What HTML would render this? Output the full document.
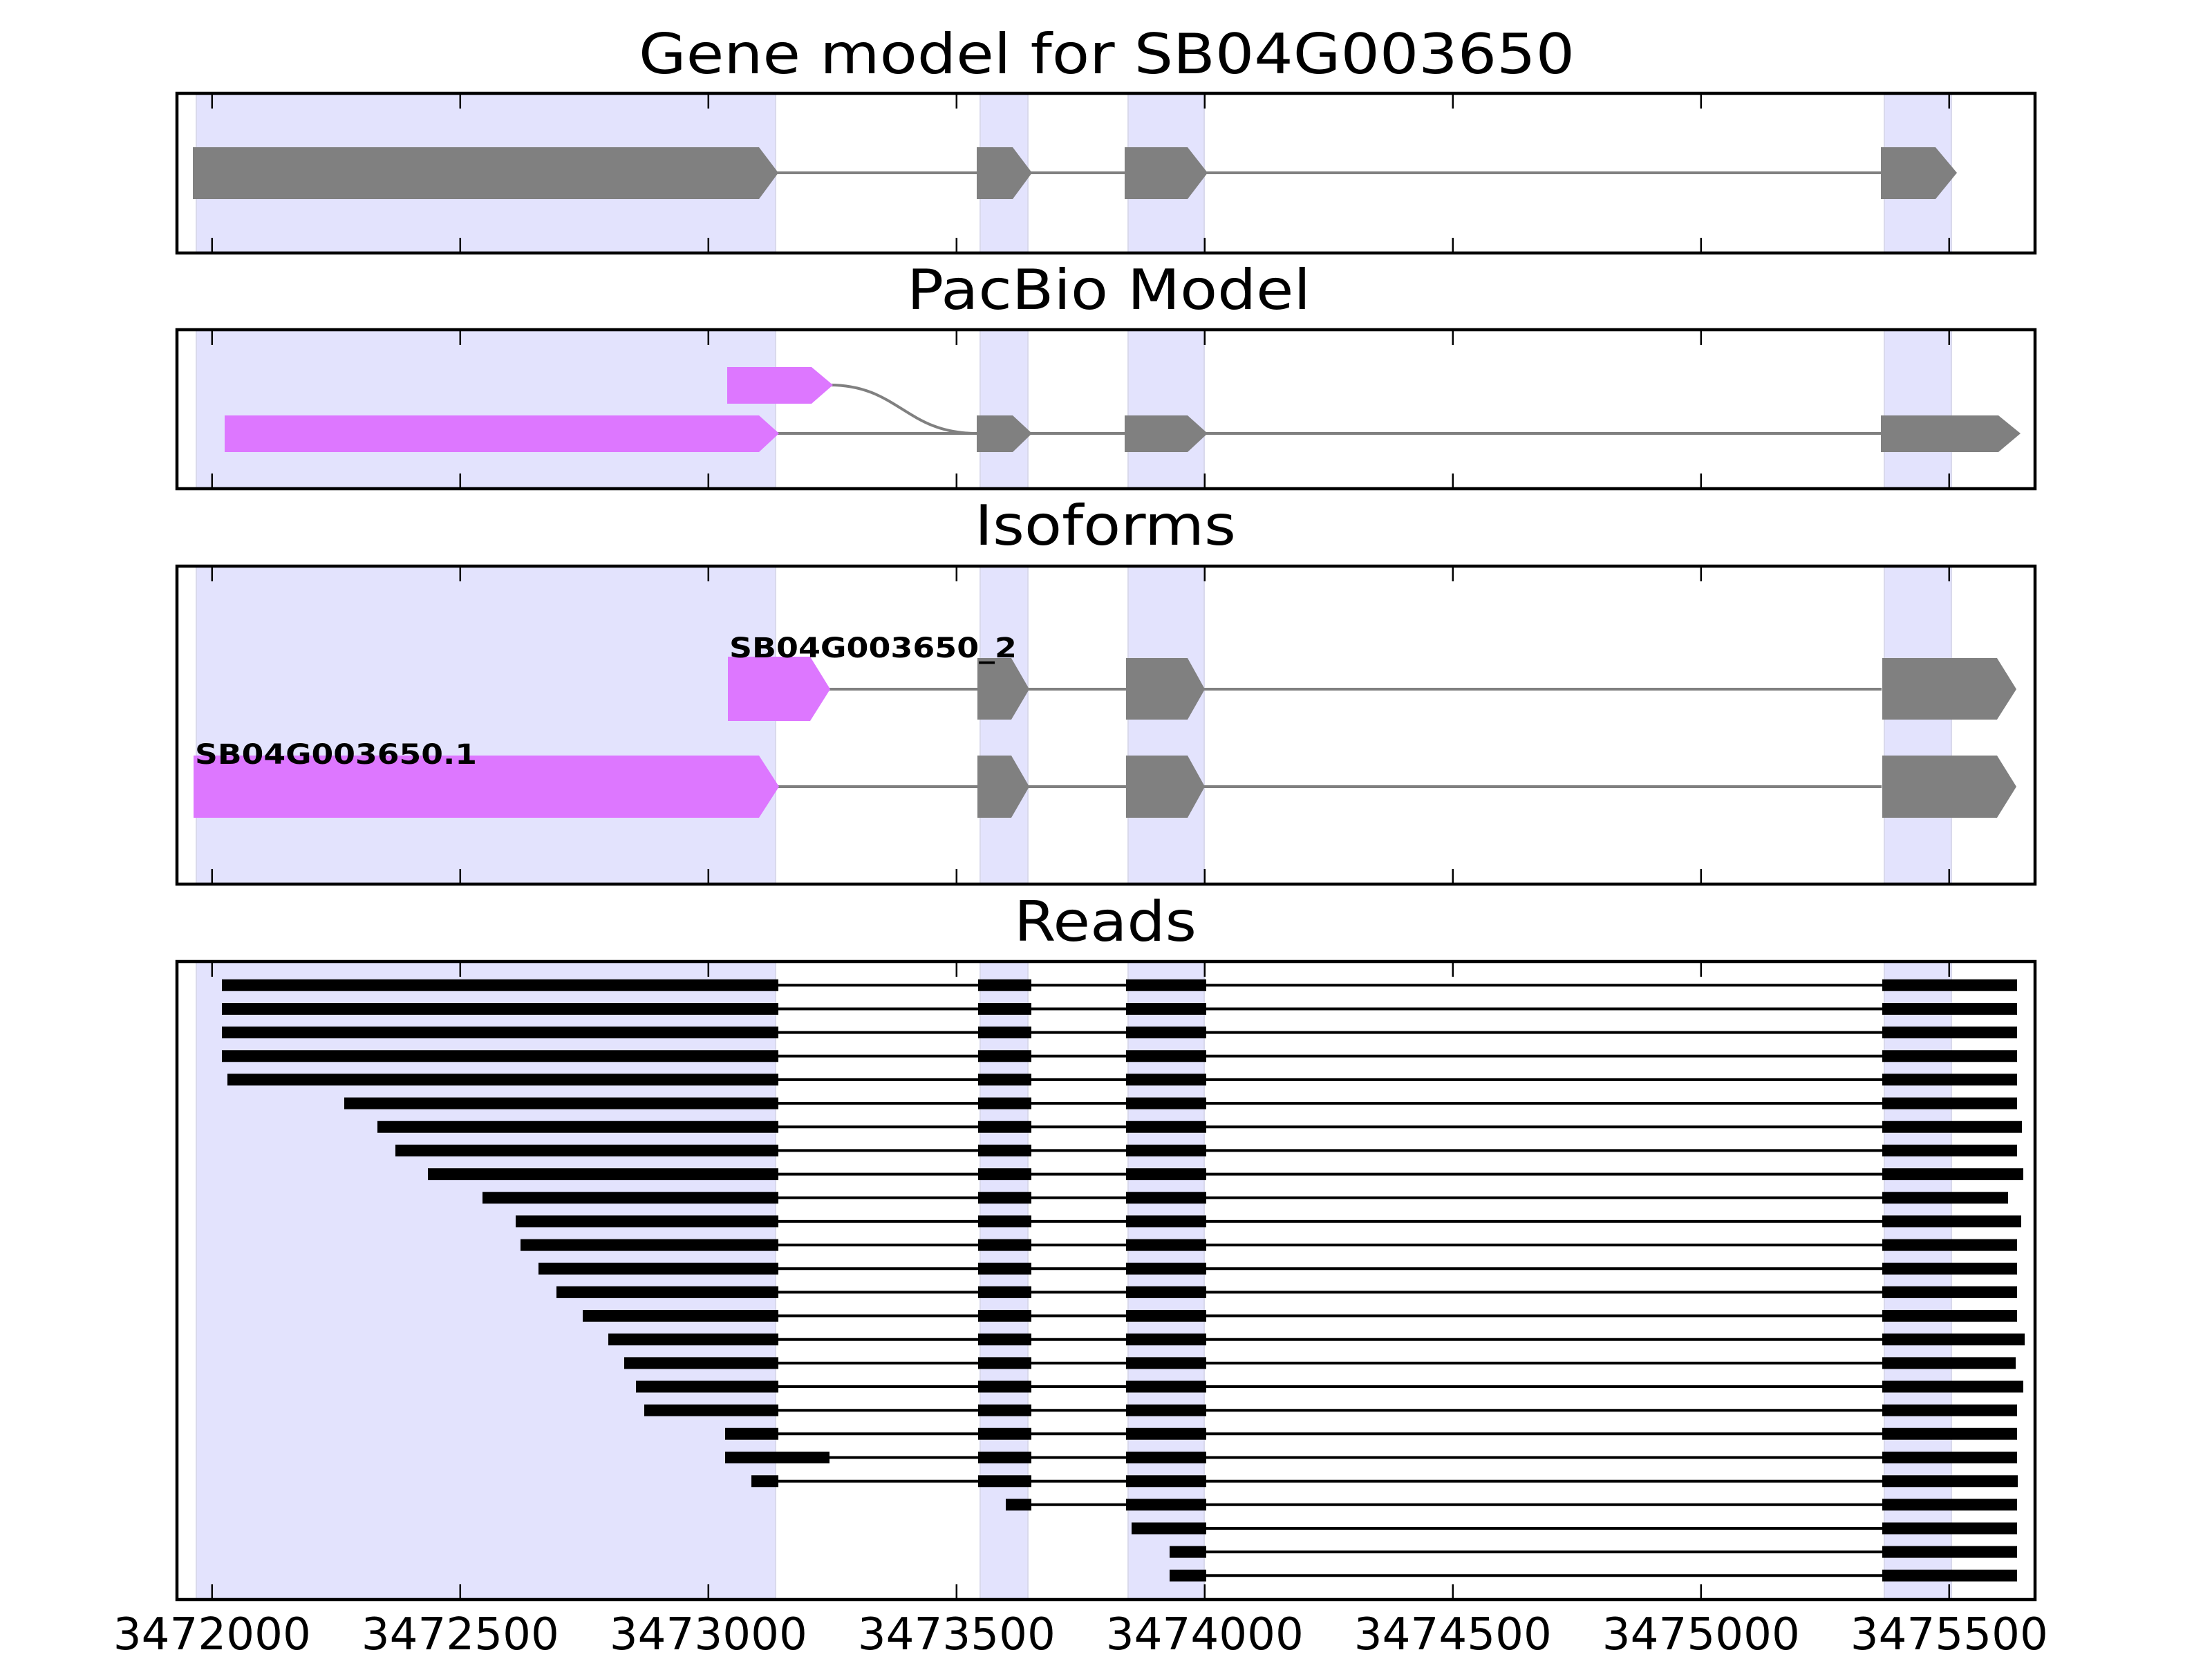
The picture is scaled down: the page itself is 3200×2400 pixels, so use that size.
<!DOCTYPE html>
<html><head><meta charset="utf-8"><style>html,body{margin:0;padding:0;background:#fff}svg{display:block}</style></head>
<body>
<svg xmlns="http://www.w3.org/2000/svg" width="3200" height="2400" viewBox="0 0 3200 2400" font-family="'DejaVu Sans','Liberation Sans',sans-serif">
<rect width="3200" height="2400" fill="#fff"/>
<defs>
<g id="shadeTop">
</g>
</defs>
<!-- Titles -->
<g font-size="80" fill="#000">
<text x="1601" y="106" text-anchor="middle" textLength="1354" lengthAdjust="spacingAndGlyphs">Gene model for SB04G003650</text>
<text x="1604" y="447" text-anchor="middle" textLength="584" lengthAdjust="spacingAndGlyphs">PacBio Model</text>
<text x="1599" y="788" text-anchor="middle" textLength="378" lengthAdjust="spacingAndGlyphs">Isoforms</text>
<text x="1599" y="1361" text-anchor="middle" textLength="264" lengthAdjust="spacingAndGlyphs">Reads</text>
</g>

<!-- Shading bands -->
<g fill="#e3e3fd" stroke="#d9d9ec" stroke-width="2">
<rect x="284" y="135" width="838" height="231"/><rect x="1418" y="135" width="69" height="231"/><rect x="1632" y="135" width="110" height="231"/><rect x="2726" y="135" width="97" height="231"/>
<rect x="284" y="477" width="838" height="230"/><rect x="1418" y="477" width="69" height="230"/><rect x="1632" y="477" width="110" height="230"/><rect x="2726" y="477" width="97" height="230"/>
<rect x="284" y="819" width="838" height="460"/><rect x="1418" y="819" width="69" height="460"/><rect x="1632" y="819" width="110" height="460"/><rect x="2726" y="819" width="97" height="460"/>
<rect x="284" y="1391" width="838" height="923"/><rect x="1418" y="1391" width="69" height="923"/><rect x="1632" y="1391" width="110" height="923"/><rect x="2726" y="1391" width="97" height="923"/>
</g>

<!-- Panel 1: gene model -->
<line x1="1120" y1="250" x2="2722" y2="250" stroke="#808080" stroke-width="4"/>
<g fill="#808080">
<polygon points="279,213 1098,213 1126,250 1098,288 279,288"/>
<polygon points="1413,213 1465,213 1493,250 1465,288 1413,288"/>
<polygon points="1627,213 1718,213 1747,250 1718,288 1627,288"/>
<polygon points="2721,213 2800,213 2831,250 2800,288 2721,288"/>
</g>

<!-- Panel 2: PacBio -->
<path d="M1200 557 C1300 557 1310 627 1413 627" fill="none" stroke="#808080" stroke-width="4"/>
<line x1="1120" y1="627" x2="2722" y2="627" stroke="#808080" stroke-width="4"/>
<g fill="#dd77ff">
<polygon points="1052,531 1174,531 1205,557 1174,584 1052,584"/>
<polygon points="325,601 1098,601 1127,627 1098,654 325,654"/>
</g>
<g fill="#808080">
<polygon points="1413,601 1465,601 1493,627 1465,654 1413,654"/>
<polygon points="1627,601 1718,601 1747,627 1718,654 1627,654"/>
<polygon points="2721,601 2891,601 2923,627 2891,654 2721,654"/>
</g>

<!-- Panel 3: Isoforms -->
<line x1="1195" y1="997" x2="2722" y2="997" stroke="#808080" stroke-width="4"/>
<line x1="1120" y1="1138" x2="2722" y2="1138" stroke="#808080" stroke-width="4"/>
<g fill="#dd77ff">
<polygon points="1053,950 1172,950 1201,997 1172,1043 1053,1043"/>
<polygon points="280,1093 1098,1093 1127,1138 1098,1183 280,1183"/>
</g>
<g fill="#808080">
<polygon points="1414,952 1463,952 1489,997 1463,1041 1414,1041"/>
<polygon points="1629,952 1718,952 1743,997 1718,1041 1629,1041"/>
<polygon points="2723,952 2889,952 2917,997 2889,1041 2723,1041"/>
<polygon points="1414,1093 1463,1093 1489,1138 1463,1183 1414,1183"/>
<polygon points="1629,1093 1718,1093 1743,1138 1718,1183 1629,1183"/>
<polygon points="2723,1093 2889,1093 2917,1138 2889,1183 2723,1183"/>
</g>
<g font-family="'DejaVu Sans','Liberation Sans',sans-serif" font-weight="bold" font-size="40" fill="#000">
<text x="1055" y="951" textLength="416" lengthAdjust="spacingAndGlyphs">SB04G003650_2</text>
<text x="282" y="1105" textLength="408" lengthAdjust="spacingAndGlyphs">SB04G003650.1</text>
</g>

<!-- Panel 4: Reads -->
<g stroke="#000" stroke-width="4">
<line x1="1126" y1="1425.3" x2="2723" y2="1425.3"/>
<line x1="1126" y1="1459.5" x2="2723" y2="1459.5"/>
<line x1="1126" y1="1493.6" x2="2723" y2="1493.6"/>
<line x1="1126" y1="1527.8" x2="2723" y2="1527.8"/>
<line x1="1126" y1="1561.9" x2="2723" y2="1561.9"/>
<line x1="1126" y1="1596.1" x2="2723" y2="1596.1"/>
<line x1="1126" y1="1630.3" x2="2723" y2="1630.3"/>
<line x1="1126" y1="1664.4" x2="2723" y2="1664.4"/>
<line x1="1126" y1="1698.6" x2="2723" y2="1698.6"/>
<line x1="1126" y1="1732.7" x2="2723" y2="1732.7"/>
<line x1="1126" y1="1766.9" x2="2723" y2="1766.9"/>
<line x1="1126" y1="1801.1" x2="2723" y2="1801.1"/>
<line x1="1126" y1="1835.2" x2="2723" y2="1835.2"/>
<line x1="1126" y1="1869.4" x2="2723" y2="1869.4"/>
<line x1="1126" y1="1903.5" x2="2723" y2="1903.5"/>
<line x1="1126" y1="1937.7" x2="2723" y2="1937.7"/>
<line x1="1126" y1="1971.9" x2="2723" y2="1971.9"/>
<line x1="1126" y1="2006.0" x2="2723" y2="2006.0"/>
<line x1="1126" y1="2040.2" x2="2723" y2="2040.2"/>
<line x1="1126" y1="2074.3" x2="2723" y2="2074.3"/>
<line x1="1126" y1="2108.5" x2="2723" y2="2108.5"/>
<line x1="1126" y1="2142.7" x2="2723" y2="2142.7"/>
<line x1="1455" y1="2176.8" x2="2723" y2="2176.8"/>
<line x1="1637" y1="2211.0" x2="2723" y2="2211.0"/>
<line x1="1692" y1="2245.1" x2="2723" y2="2245.1"/>
<line x1="1692" y1="2279.3" x2="2723" y2="2279.3"/>
</g>
<g stroke="#000" stroke-width="17">
<!-- first exon -->
<line x1="321" y1="1425.3" x2="1126" y2="1425.3"/>
<line x1="321" y1="1459.5" x2="1126" y2="1459.5"/>
<line x1="321" y1="1493.6" x2="1126" y2="1493.6"/>
<line x1="321" y1="1527.8" x2="1126" y2="1527.8"/>
<line x1="329" y1="1561.9" x2="1126" y2="1561.9"/>
<line x1="498" y1="1596.1" x2="1126" y2="1596.1"/>
<line x1="546" y1="1630.3" x2="1126" y2="1630.3"/>
<line x1="572" y1="1664.4" x2="1126" y2="1664.4"/>
<line x1="619" y1="1698.6" x2="1126" y2="1698.6"/>
<line x1="698" y1="1732.7" x2="1126" y2="1732.7"/>
<line x1="746" y1="1766.9" x2="1126" y2="1766.9"/>
<line x1="753" y1="1801.1" x2="1126" y2="1801.1"/>
<line x1="779" y1="1835.2" x2="1126" y2="1835.2"/>
<line x1="805" y1="1869.4" x2="1126" y2="1869.4"/>
<line x1="843" y1="1903.5" x2="1126" y2="1903.5"/>
<line x1="880" y1="1937.7" x2="1126" y2="1937.7"/>
<line x1="903" y1="1971.9" x2="1126" y2="1971.9"/>
<line x1="920" y1="2006.0" x2="1126" y2="2006.0"/>
<line x1="932" y1="2040.2" x2="1126" y2="2040.2"/>
<line x1="1049" y1="2074.3" x2="1126" y2="2074.3"/>
<line x1="1049" y1="2108.5" x2="1200" y2="2108.5"/>
<line x1="1087" y1="2142.7" x2="1126" y2="2142.7"/>
<!-- exon 2 -->
<line x1="1415" y1="1425.3" x2="1492" y2="1425.3"/>
<line x1="1415" y1="1459.5" x2="1492" y2="1459.5"/>
<line x1="1415" y1="1493.6" x2="1492" y2="1493.6"/>
<line x1="1415" y1="1527.8" x2="1492" y2="1527.8"/>
<line x1="1415" y1="1561.9" x2="1492" y2="1561.9"/>
<line x1="1415" y1="1596.1" x2="1492" y2="1596.1"/>
<line x1="1415" y1="1630.3" x2="1492" y2="1630.3"/>
<line x1="1415" y1="1664.4" x2="1492" y2="1664.4"/>
<line x1="1415" y1="1698.6" x2="1492" y2="1698.6"/>
<line x1="1415" y1="1732.7" x2="1492" y2="1732.7"/>
<line x1="1415" y1="1766.9" x2="1492" y2="1766.9"/>
<line x1="1415" y1="1801.1" x2="1492" y2="1801.1"/>
<line x1="1415" y1="1835.2" x2="1492" y2="1835.2"/>
<line x1="1415" y1="1869.4" x2="1492" y2="1869.4"/>
<line x1="1415" y1="1903.5" x2="1492" y2="1903.5"/>
<line x1="1415" y1="1937.7" x2="1492" y2="1937.7"/>
<line x1="1415" y1="1971.9" x2="1492" y2="1971.9"/>
<line x1="1415" y1="2006.0" x2="1492" y2="2006.0"/>
<line x1="1415" y1="2040.2" x2="1492" y2="2040.2"/>
<line x1="1415" y1="2074.3" x2="1492" y2="2074.3"/>
<line x1="1415" y1="2108.5" x2="1492" y2="2108.5"/>
<line x1="1415" y1="2142.7" x2="1492" y2="2142.7"/>
<line x1="1455" y1="2176.8" x2="1492" y2="2176.8"/>
<!-- exon 3 -->
<line x1="1629" y1="1425.3" x2="1745" y2="1425.3"/>
<line x1="1629" y1="1459.5" x2="1745" y2="1459.5"/>
<line x1="1629" y1="1493.6" x2="1745" y2="1493.6"/>
<line x1="1629" y1="1527.8" x2="1745" y2="1527.8"/>
<line x1="1629" y1="1561.9" x2="1745" y2="1561.9"/>
<line x1="1629" y1="1596.1" x2="1745" y2="1596.1"/>
<line x1="1629" y1="1630.3" x2="1745" y2="1630.3"/>
<line x1="1629" y1="1664.4" x2="1745" y2="1664.4"/>
<line x1="1629" y1="1698.6" x2="1745" y2="1698.6"/>
<line x1="1629" y1="1732.7" x2="1745" y2="1732.7"/>
<line x1="1629" y1="1766.9" x2="1745" y2="1766.9"/>
<line x1="1629" y1="1801.1" x2="1745" y2="1801.1"/>
<line x1="1629" y1="1835.2" x2="1745" y2="1835.2"/>
<line x1="1629" y1="1869.4" x2="1745" y2="1869.4"/>
<line x1="1629" y1="1903.5" x2="1745" y2="1903.5"/>
<line x1="1629" y1="1937.7" x2="1745" y2="1937.7"/>
<line x1="1629" y1="1971.9" x2="1745" y2="1971.9"/>
<line x1="1629" y1="2006.0" x2="1745" y2="2006.0"/>
<line x1="1629" y1="2040.2" x2="1745" y2="2040.2"/>
<line x1="1629" y1="2074.3" x2="1745" y2="2074.3"/>
<line x1="1629" y1="2108.5" x2="1745" y2="2108.5"/>
<line x1="1629" y1="2142.7" x2="1745" y2="2142.7"/>
<line x1="1629" y1="2176.8" x2="1745" y2="2176.8"/>
<line x1="1637" y1="2211.0" x2="1745" y2="2211.0"/>
<line x1="1692" y1="2245.1" x2="1745" y2="2245.1"/>
<line x1="1692" y1="2279.3" x2="1745" y2="2279.3"/>
<!-- exon 4 -->
<line x1="2723" y1="1425.3" x2="2918" y2="1425.3"/>
<line x1="2723" y1="1459.5" x2="2918" y2="1459.5"/>
<line x1="2723" y1="1493.6" x2="2918" y2="1493.6"/>
<line x1="2723" y1="1527.8" x2="2918" y2="1527.8"/>
<line x1="2723" y1="1561.9" x2="2918" y2="1561.9"/>
<line x1="2723" y1="1596.1" x2="2918" y2="1596.1"/>
<line x1="2723" y1="1630.3" x2="2925" y2="1630.3"/>
<line x1="2723" y1="1664.4" x2="2918" y2="1664.4"/>
<line x1="2723" y1="1698.6" x2="2927" y2="1698.6"/>
<line x1="2723" y1="1732.7" x2="2905" y2="1732.7"/>
<line x1="2723" y1="1766.9" x2="2924" y2="1766.9"/>
<line x1="2723" y1="1801.1" x2="2918" y2="1801.1"/>
<line x1="2723" y1="1835.2" x2="2918" y2="1835.2"/>
<line x1="2723" y1="1869.4" x2="2918" y2="1869.4"/>
<line x1="2723" y1="1903.5" x2="2918" y2="1903.5"/>
<line x1="2723" y1="1937.7" x2="2929" y2="1937.7"/>
<line x1="2723" y1="1971.9" x2="2916" y2="1971.9"/>
<line x1="2723" y1="2006.0" x2="2927" y2="2006.0"/>
<line x1="2723" y1="2040.2" x2="2918" y2="2040.2"/>
<line x1="2723" y1="2074.3" x2="2918" y2="2074.3"/>
<line x1="2723" y1="2108.5" x2="2918" y2="2108.5"/>
<line x1="2723" y1="2142.7" x2="2919" y2="2142.7"/>
<line x1="2723" y1="2176.8" x2="2918" y2="2176.8"/>
<line x1="2723" y1="2211.0" x2="2918" y2="2211.0"/>
<line x1="2723" y1="2245.1" x2="2918" y2="2245.1"/>
<line x1="2723" y1="2279.3" x2="2918" y2="2279.3"/>
</g>

<!-- Ticks -->
<g stroke="#000" stroke-width="2.5">
<path d="M306.8 135v22M665.8 135v22M1024.8 135v22M1383.8 135v22M1742.8 135v22M2101.8 135v22M2460.8 135v22M2819.8 135v22
M306.8 366v-22M665.8 366v-22M1024.8 366v-22M1383.8 366v-22M1742.8 366v-22M2101.8 366v-22M2460.8 366v-22M2819.8 366v-22
M306.8 477v22M665.8 477v22M1024.8 477v22M1383.8 477v22M1742.8 477v22M2101.8 477v22M2460.8 477v22M2819.8 477v22
M306.8 707v-22M665.8 707v-22M1024.8 707v-22M1383.8 707v-22M1742.8 707v-22M2101.8 707v-22M2460.8 707v-22M2819.8 707v-22
M306.8 819v22M665.8 819v22M1024.8 819v22M1383.8 819v22M1742.8 819v22M2101.8 819v22M2460.8 819v22M2819.8 819v22
M306.8 1279v-22M665.8 1279v-22M1024.8 1279v-22M1383.8 1279v-22M1742.8 1279v-22M2101.8 1279v-22M2460.8 1279v-22M2819.8 1279v-22
M306.8 1391v22M665.8 1391v22M1024.8 1391v22M1383.8 1391v22M1742.8 1391v22M2101.8 1391v22M2460.8 1391v22M2819.8 1391v22
M306.8 2314v-22M665.8 2314v-22M1024.8 2314v-22M1383.8 2314v-22M1742.8 2314v-22M2101.8 2314v-22M2460.8 2314v-22M2819.8 2314v-22"/>
</g>

<!-- Frames -->
<g fill="none" stroke="#000" stroke-width="4.5">
<rect x="256" y="135" width="2688" height="231"/>
<rect x="256" y="477" width="2688" height="230"/>
<rect x="256" y="819" width="2688" height="460"/>
<rect x="256" y="1391" width="2688" height="923"/>
</g>

<!-- X tick labels -->
<g font-size="64" fill="#000" text-anchor="middle">
<text x="306.8" y="2386" textLength="286" lengthAdjust="spacingAndGlyphs">3472000</text>
<text x="665.8" y="2386" textLength="286" lengthAdjust="spacingAndGlyphs">3472500</text>
<text x="1024.8" y="2386" textLength="286" lengthAdjust="spacingAndGlyphs">3473000</text>
<text x="1383.8" y="2386" textLength="286" lengthAdjust="spacingAndGlyphs">3473500</text>
<text x="1742.8" y="2386" textLength="286" lengthAdjust="spacingAndGlyphs">3474000</text>
<text x="2101.8" y="2386" textLength="286" lengthAdjust="spacingAndGlyphs">3474500</text>
<text x="2460.8" y="2386" textLength="286" lengthAdjust="spacingAndGlyphs">3475000</text>
<text x="2819.8" y="2386" textLength="286" lengthAdjust="spacingAndGlyphs">3475500</text>
</g>
</svg>
</body></html>
